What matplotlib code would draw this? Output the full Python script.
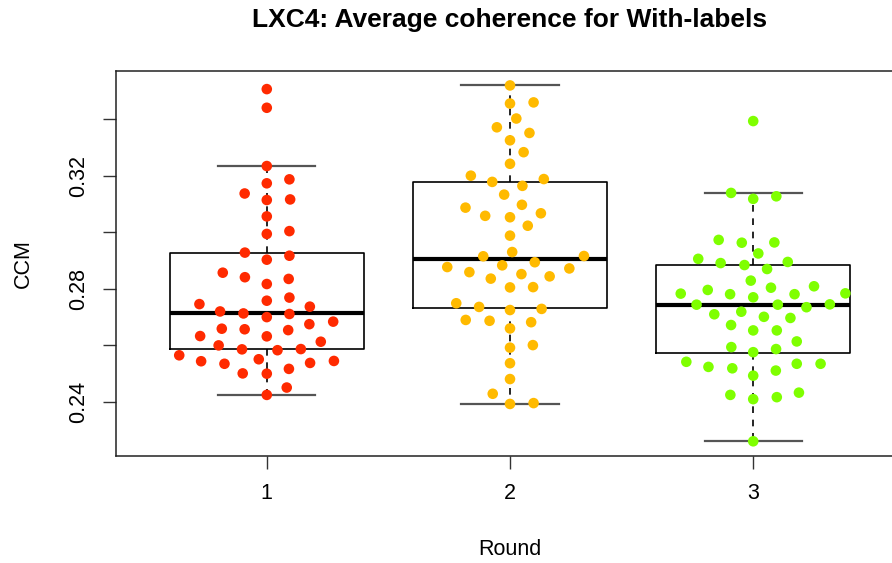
import matplotlib
matplotlib.use("Agg")
import matplotlib.pyplot as plt
import numpy as np

plt.rcParams['font.family'] = ['Liberation Sans', 'DejaVu Sans']

# rounds on the x axis
rounds = [1, 2, 3]
round_colors = ['#FF2A00', '#FFBA00', '#7FFF00']

# box statistics (R boxplot, outliers hidden)
box_q1 = [0.2588, 0.2731, 0.2574]
box_med = [0.2713, 0.2904, 0.2743]
box_q3 = [0.2928, 0.3177, 0.2883]
box_whislo = [0.2425, 0.2393, 0.2262]
box_whishi = [0.3234, 0.3519, 0.3137]

# beeswarm points: CCM value and horizontal swarm offset per round
ccm_r1 = [0.3506, 0.3440, 0.3234, 0.3173, 0.3187, 0.3137, 0.3114, 0.3116, 0.3056, 0.2994,
          0.3004, 0.2928, 0.2917, 0.2903, 0.2857, 0.2841, 0.2817, 0.2835, 0.2746, 0.2758,
          0.2769, 0.2737, 0.2720, 0.2713, 0.2700, 0.2711, 0.2684, 0.2675, 0.2659, 0.2657,
          0.2654, 0.2633, 0.2632, 0.2613, 0.2600, 0.2586, 0.2583, 0.2587, 0.2565, 0.2544,
          0.2535, 0.2551, 0.2538, 0.2545, 0.2501, 0.2500, 0.2517, 0.2451, 0.2425]
off_r1 = [0, 0, 0, 0, 0.093, -0.091, 0, 0.096, 0, 0,
          0.093, -0.090, 0.093, 0, -0.181, -0.090, 0, 0.090, -0.277, 0,
          0.093, 0.177, -0.192, -0.096, 0, 0.093, 0.273, 0.175, -0.185, -0.091,
          0.088, -0.274, 0, 0.222, -0.198, -0.102, 0.044, 0.140, -0.360, -0.270,
          -0.174, -0.033, 0.178, 0.276, -0.099, 0, 0.091, 0.082, 0]

ccm_r2 = [0.3519, 0.3455, 0.3459, 0.3402, 0.3371, 0.3351, 0.3325, 0.3283, 0.3242, 0.3200,
          0.3178, 0.3164, 0.3188, 0.3133, 0.3087, 0.3097, 0.3058, 0.3053, 0.3067, 0.3023,
          0.2988, 0.2930, 0.2915, 0.2916, 0.2877, 0.2883, 0.2894, 0.2859, 0.2852, 0.2836,
          0.2844, 0.2872, 0.2805, 0.2806, 0.2749, 0.2736, 0.2725, 0.2729, 0.2690, 0.2687,
          0.2682, 0.2660, 0.2592, 0.2601, 0.2537, 0.2481, 0.2429, 0.2393, 0.2396]
off_r2 = [0, 0, 0.097, 0.026, -0.054, 0.080, 0, 0.056, 0, -0.161,
          -0.073, 0.051, 0.139, -0.024, -0.183, 0.049, -0.102, 0, 0.127, 0.073,
          0, 0.009, -0.110, 0.304, -0.258, -0.032, 0.102, -0.167, 0.047, -0.079,
          0.163, 0.244, 0, 0.095, -0.221, -0.127, 0, 0.130, -0.182, -0.084,
          0.087, 0, 0, 0.094, 0, 0, -0.071, 0, 0.097]

ccm_r3 = [0.3393, 0.3139, 0.3118, 0.3127, 0.2973, 0.2963, 0.2964, 0.2925, 0.2906, 0.2891,
          0.2884, 0.2870, 0.2895, 0.2829, 0.2783, 0.2796, 0.2781, 0.2770, 0.2804, 0.2781,
          0.2809, 0.2784, 0.2744, 0.2744, 0.2735, 0.2745, 0.2710, 0.2719, 0.2701, 0.2697,
          0.2672, 0.2653, 0.2653, 0.2614, 0.2594, 0.2576, 0.2587, 0.2542, 0.2524, 0.2519,
          0.2493, 0.2511, 0.2535, 0.2535, 0.2425, 0.2410, 0.2417, 0.2433, 0.2261]
off_r3 = [0, -0.091, 0, 0.095, -0.142, -0.047, 0.087, 0.021, -0.226, -0.134,
          -0.036, 0.057, 0.142, -0.010, -0.298, -0.187, -0.095, 0, 0.073, 0.170,
          0.250, 0.379, -0.233, 0.101, 0.219, 0.315, -0.160, -0.049, 0.044, 0.153,
          -0.091, 0, 0.097, 0.179, -0.090, 0, 0.094, -0.275, -0.184, -0.086,
          0, 0.093, 0.179, 0.277, -0.094, 0, 0.097, 0.188, 0]

ccm_all = [ccm_r1, ccm_r2, ccm_r3]
off_all = [off_r1, off_r2, off_r3]

fig = plt.figure(figsize=(8.92, 5.63), dpi=100)
# plot region runs past the right edge, like the cropped original
ax = fig.add_axes([116 / 892, 107 / 563, 788 / 892, 385 / 563])

stats = []
for i in range(len(rounds)):
    stats.append(dict(q1=box_q1[i], med=box_med[i], q3=box_q3[i],
                      whislo=box_whislo[i], whishi=box_whishi[i], fliers=[]))

ax.bxp(stats, positions=rounds, widths=0.8, showfliers=False, patch_artist=False,
       boxprops=dict(color='black', linewidth=1.2),
       medianprops=dict(color='black', linewidth=3.0),
       whiskerprops=dict(color='black', linewidth=1.2, linestyle=(0, (4, 4))),
       capprops=dict(color='#555555', linewidth=1.6),
       capwidths=0.4, zorder=1)

for i, r in enumerate(rounds):
    xs = r + np.array(off_all[i])
    ax.scatter(xs, ccm_all[i], s=58, color=round_colors[i], edgecolors='none', zorder=3)

ax.set_xlim(0.38, 3.62)
ax.set_ylim(0.2209, 0.3570)

yt = [0.24, 0.26, 0.28, 0.30, 0.32, 0.34]
ax.set_yticks(yt)
ax.set_yticklabels(['0.24', '', '0.28', '', '0.32', ''], rotation=90, va='center')
ax.set_xticks(rounds)
ax.set_xticklabels([str(r) for r in rounds])

ax.tick_params(axis='both', length=9.5, width=1.0, labelsize=15.5, color='#333333')
ax.tick_params(axis='y', pad=10)
ax.tick_params(axis='x', pad=10)

for sp in ax.spines.values():
    sp.set_linewidth(1.1)
    sp.set_color('#222222')

ax.set_xlabel('Round', fontsize=15.5)
ax.xaxis.set_label_coords(0.5, -0.2416)
ax.xaxis.label.set_va('center')
ax.set_ylabel('CCM', fontsize=15.5)
ax.yaxis.set_label_coords(-0.118, 0.5)
ax.yaxis.label.set_va('center')

ax.set_title('LXC4: Average coherence for With-labels', fontsize=19,
             fontweight='bold', y=1.1325, va='center', pad=0)

fig.savefig('out.png', dpi=100)
